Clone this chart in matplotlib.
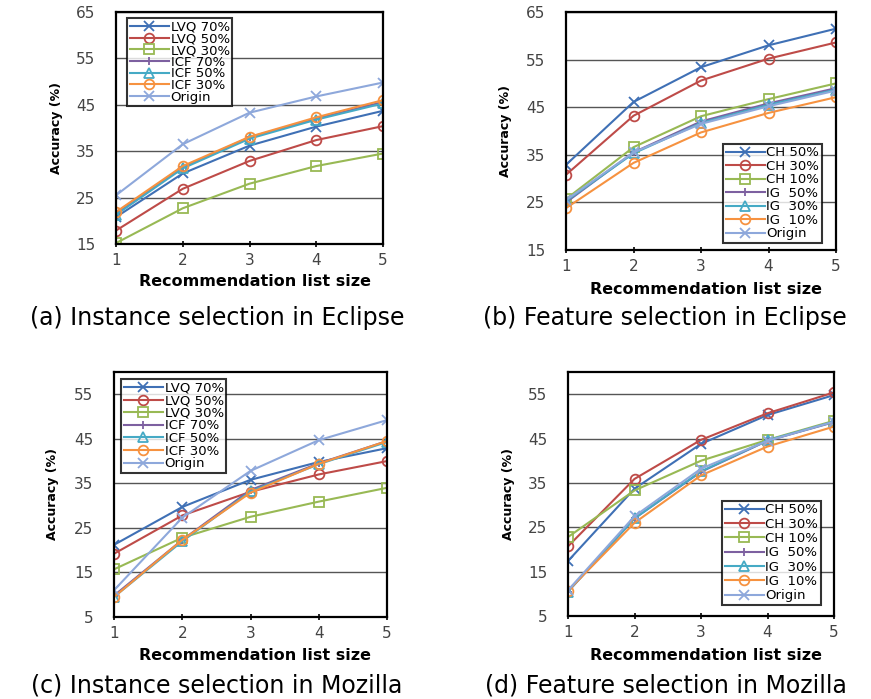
import numpy as np
import matplotlib
matplotlib.use('Agg')
import matplotlib.pyplot as plt

plt.rcParams['font.family'] = ['DejaVu Sans']

x = [1, 2, 3, 4, 5]

# (a) Instance selection in Eclipse
a_names = ['LVQ 70%', 'LVQ 50%', 'LVQ 30%', 'ICF 70%', 'ICF 50%', 'ICF 30%', 'Origin']
a_lvq70 = [20.8, 30.2, 36.2, 40.3, 43.7]
a_lvq50 = [17.9, 26.9, 32.9, 37.4, 40.4]
a_lvq30 = [15.2, 22.7, 28.0, 31.8, 34.5]
a_icf70 = [21.5, 31.5, 38.0, 42.0, 45.6]
a_icf50 = [21.3, 31.3, 37.7, 41.8, 45.3]
a_icf30 = [21.9, 31.8, 38.1, 42.3, 46.0]
a_origin = [25.5, 36.5, 43.3, 46.8, 49.8]

# (b) Feature selection in Eclipse
b_names = ['CH 50%', 'CH 30%', 'CH 10%', 'IG  50%', 'IG  30%', 'IG  10%', 'Origin']
b_ch50 = [32.9, 46.1, 53.4, 58.0, 61.5]
b_ch30 = [30.8, 43.2, 50.6, 55.2, 58.6]
b_ch10 = [25.7, 36.6, 43.1, 46.7, 50.0]
b_ig50 = [25.0, 35.5, 42.0, 45.8, 49.0]
b_ig30 = [25.3, 35.3, 41.7, 45.5, 48.7]
b_ig10 = [23.8, 33.3, 39.7, 43.8, 47.1]
b_origin = [25.5, 35.5, 41.5, 45.2, 48.5]

# (c) Instance selection in Mozilla
c_lvq70 = [21.2, 29.7, 35.8, 39.8, 42.9]
c_lvq50 = [19.2, 27.8, 33.1, 37.0, 40.0]
c_lvq30 = [15.7, 22.8, 27.5, 30.9, 34.0]
c_icf70 = [9.8, 22.3, 33.5, 39.5, 44.5]
c_icf50 = [9.5, 22.0, 33.2, 39.3, 44.3]
c_icf30 = [9.5, 22.3, 32.9, 39.4, 44.5]
c_origin = [11.0, 27.3, 37.8, 44.7, 49.2]

# (d) Feature selection in Mozilla
d_ch50 = [17.4, 33.7, 43.8, 50.3, 54.8]
d_ch30 = [20.7, 35.9, 44.7, 50.7, 55.4]
d_ch10 = [22.8, 33.3, 40.0, 44.7, 49.0]
d_ig50 = [10.5, 27.0, 37.5, 44.5, 48.7]
d_ig30 = [10.5, 27.0, 37.6, 44.6, 48.8]
d_ig10 = [10.7, 26.0, 36.7, 43.2, 47.7]
d_origin = [10.8, 27.5, 38.2, 44.5, 48.8]

colors = ['#3F70B5', '#BE4B48', '#98B954', '#7D60A0', '#46AAC5', '#F69240', '#8EA8DB']
markers = ['x', 'o', 's', '+', '^', 'o', 'x']

# series, names, axes box (px), ylim, yticks, legend loc, legend anchor (px), row spacing,
# caption, xlabel centre/y, caption centre/y
panels = [
    ([a_lvq70, a_lvq50, a_lvq30, a_icf70, a_icf50, a_icf30, a_origin], a_names,
     [116, 12, 383, 244], (15, 65), [15, 25, 35, 45, 55, 65],
     'upper left', (127, 18), -0.1,
     '(a) Instance selection in Eclipse', (255, 282), (217, 318)),
    ([b_ch50, b_ch30, b_ch10, b_ig50, b_ig30, b_ig10, b_origin], b_names,
     [566, 12, 836, 250], (15, 65), [15, 25, 35, 45, 55, 65],
     'lower right', (822, 243), 0.04,
     '(b) Feature selection in Eclipse', (706, 290), (665, 318)),
    ([c_lvq70, c_lvq50, c_lvq30, c_icf70, c_icf50, c_icf30, c_origin], a_names,
     [114, 372, 387, 617], (5, 60), [5, 15, 25, 35, 45, 55],
     'upper left', (121, 379), -0.03,
     '(c) Instance selection in Mozilla', (255, 655), (217, 685)),
    ([d_ch50, d_ch30, d_ch10, d_ig50, d_ig30, d_ig10, d_origin], b_names,
     [568, 372, 834, 616], (5, 60), [5, 15, 25, 35, 45, 55],
     'lower right', (821, 605), 0.1,
     '(d) Feature selection in Mozilla', (706, 655), (666, 685)),
]

W, H = 871, 699
fig = plt.figure(figsize=(W / 100, H / 100), dpi=100)

for (series, names, box, ylim, yticks, loc, anchor, rowsp,
     caption, xl_pos, cap_pos) in panels:
    l, t, r, b = box
    ax = fig.add_axes([l / W, (H - b) / H, (r - l) / W, (b - t) / H])
    for i, (vals, name) in enumerate(zip(series, names)):
        ax.plot(x, vals, color=colors[i], marker=markers[i], lw=1.5,
                markersize=7 if markers[i] != '+' else 6,
                markerfacecolor=colors[i] if markers[i] in 'x+' else 'none',
                markeredgewidth=1.3, label=name)
    ax.set_xlim(1, 5)
    ax.set_ylim(*ylim)
    ax.set_xticks(x)
    ax.set_yticks(yticks)
    ax.yaxis.grid(True, color='#555555', lw=1.0)
    ax.set_axisbelow(True)
    for s in ax.spines.values():
        s.set_linewidth(1.6)
        s.set_color('black')
    ax.tick_params(axis='y', length=0, labelsize=11, labelcolor='#444444', pad=15)
    ax.tick_params(axis='x', direction='inout', length=5, width=1.2,
                   labelsize=11, labelcolor='#444444', pad=4)
    ax.set_ylabel('Accuracy (%)', fontsize=9, fontweight='bold')
    ax.yaxis.set_label_coords(-0.20, 0.5)
    leg = ax.legend(loc=loc, bbox_to_anchor=(anchor[0] / W, 1 - anchor[1] / H),
                    bbox_transform=fig.transFigure, borderaxespad=0,
                    fontsize=9.5, frameon=True, fancybox=False,
                    borderpad=0.2, labelspacing=rowsp, handlelength=3.0,
                    handletextpad=0.1)
    leg.get_frame().set_edgecolor('black')
    leg.get_frame().set_linewidth(1.5)
    fig.text(xl_pos[0] / W, 1 - xl_pos[1] / H, 'Recommendation list size',
             ha='center', va='center', fontsize=11.5, fontweight='bold')
    fig.text(cap_pos[0] / W, 1 - cap_pos[1] / H, caption, ha='center', va='center',
             fontsize=17)

fig.savefig('out.png', dpi=100)
